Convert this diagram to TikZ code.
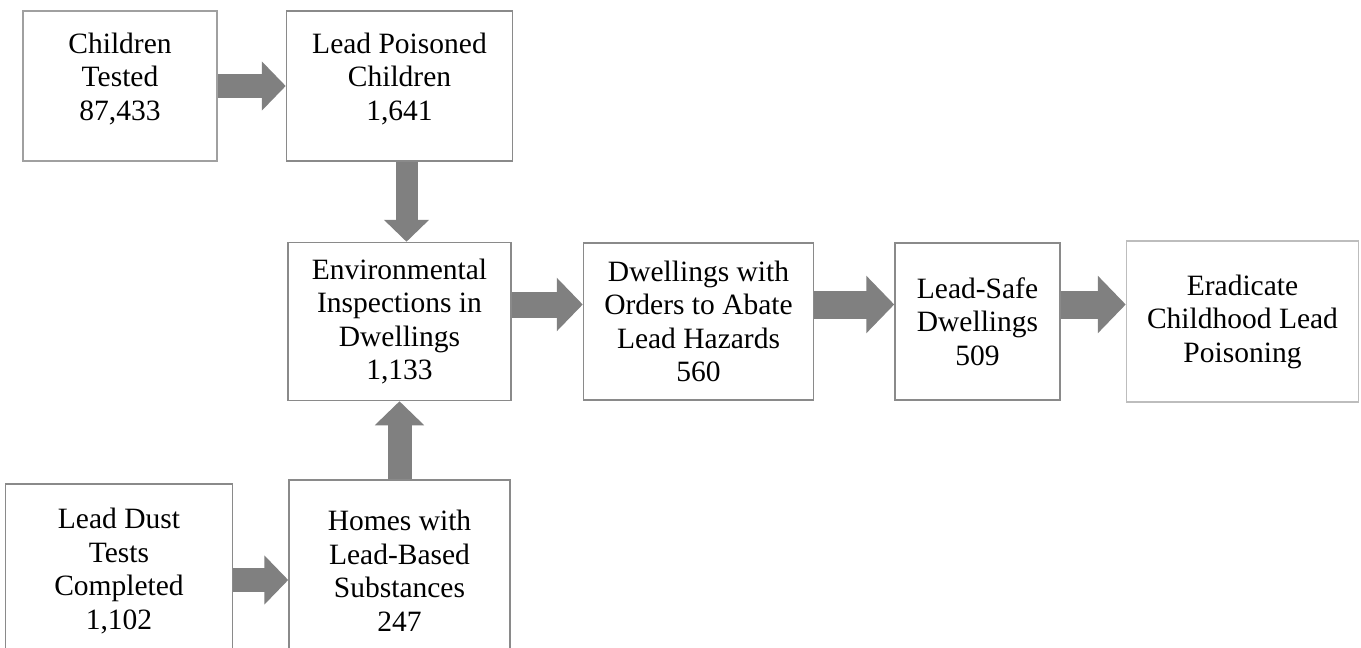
\documentclass[tikz,border=0pt]{standalone}
\usepackage{fontspec}
\setmainfont{Liberation Serif}
\usetikzlibrary{arrows.meta,positioning}
\definecolor{BoxGray}{HTML}{8A8A8A}
\definecolor{BoxLight}{HTML}{A0A0A0}
\definecolor{EndGray}{HTML}{BDBDBD}
\definecolor{ArrowGray}{HTML}{808080}

\begin{document}
\begin{tikzpicture}[
  x=1pt,y=-1pt,
  box/.style={draw=BoxGray,line width=1.5pt,fill=white,align=center,inner sep=0pt,font=\fontsize{29.5}{33.5}\selectfont},
  blockarr/.style={draw=ArrowGray,line width=#1,-{Triangle[length=0pt 1,width=0pt 2]}},
  blockarr/.default=24pt
]
\useasboundingbox (0,0) rectangle (1361,648);
\node[box,draw=BoxLight,minimum width=194pt,minimum height=150pt] (tested) at (120,86) {Children\\Tested\\87,433\\[-15pt]\mbox{}};
\node[box,right=68pt of tested,minimum width=226pt,minimum height=150pt] (poisoned) {Lead Poisoned\\Children\\1,641\\[-15pt]\mbox{}};
\node[box,below=80pt of poisoned,minimum width=223pt,minimum height=158pt] (inspect) {Environmental\\Inspections in\\Dwellings\\1,133};
\node[box,right=71pt of inspect,minimum width=230pt,minimum height=157pt] (orders) {Dwellings with\\Orders to Abate\\Lead Hazards\\560};
\node[box,right=80pt of orders,minimum width=165pt,minimum height=157pt] (safe) {Lead-Safe\\Dwellings\\509};
\node[box,draw=EndGray,right=65pt of safe,minimum width=232pt,minimum height=161pt] (eradicate) {Eradicate\\Childhood Lead\\Poisoning};
\node[box,below=78pt of inspect,minimum width=221pt,minimum height=182pt] (homes) {Homes with\\Lead-Based\\Substances\\247};
\node[box,left=55pt of homes,minimum width=227pt,minimum height=174pt] (dust) {Lead Dust\\Tests\\Completed\\1,102};
\draw[blockarr] (tested) -- (poisoned);
\draw[blockarr=22pt] ([xshift=7pt]poisoned.south) -- ([xshift=7pt]inspect.north);
\draw[blockarr] (homes.north) -- (homes.north |- inspect.south);
\draw[blockarr=26pt] ([yshift=17pt]inspect.east) -- ([yshift=17pt]orders.west);
\draw[blockarr=28pt] ([yshift=17pt]orders.east) -- ([yshift=17pt]safe.west);
\draw[blockarr=28pt] ([yshift=17pt]safe.east) -- ([yshift=17pt]eradicate.west);
\draw[blockarr] ([yshift=-9pt]dust.east) -- ([yshift=-9pt]homes.west);
\end{tikzpicture}
\end{document}
